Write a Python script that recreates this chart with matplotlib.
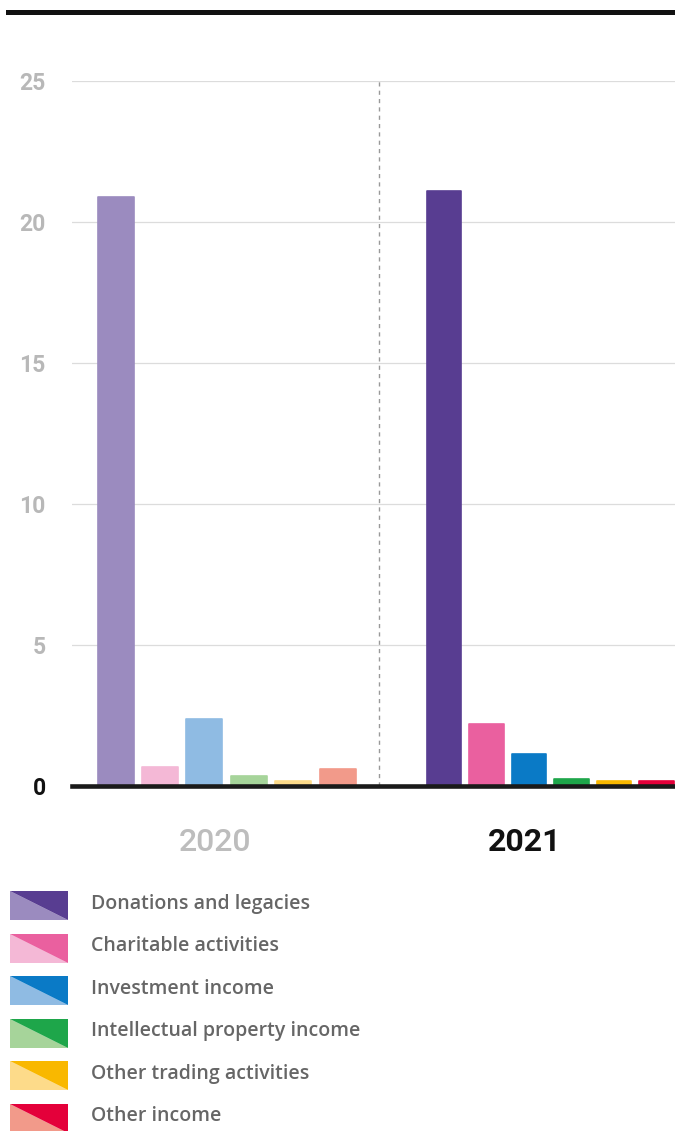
import matplotlib
matplotlib.use("Agg")
import matplotlib.pyplot as plt
from matplotlib.lines import Line2D
from matplotlib.patches import Polygon
import numpy as np

# ===== DATOS =====
categories = ["Donations and legacies", "Charitable activities", "Investment income",
              "Intellectual property income", "Other trading activities", "Other income"]
years = ["2020", "2021"]
values_2020 = [20.87, 0.67, 2.37, 0.37, 0.18, 0.59]
values_2021 = [21.1, 2.2, 1.13, 0.26, 0.17, 0.18]
colors_2020 = ["#9b8bbf", "#f4b8d6", "#8fbbe3", "#a6d49a", "#fddb8a", "#f29a8a"]
colors_2021 = ["#583d91", "#ea609f", "#0a7ac6", "#1ea64a", "#f9b800", "#e4003a"]
yticks = [0, 5, 10, 15, 20, 25]

plt.rcParams['font.family'] = ['Roboto', 'DejaVu Sans']

W, H = 675, 1131
fig = plt.figure(figsize=(W / 100, H / 100), dpi=100)

# ===== EJES PRINCIPALES =====
ax_l, ax_r, ax_t, ax_b = 72, 675, 81, 786
ax = fig.add_axes([ax_l / W, (H - ax_b) / H, (ax_r - ax_l) / W, (ax_b - ax_t) / H])
ax.set_xlim(0, ax_r - ax_l)
ax.set_ylim(0, 25)

# posiciones de barras (en px desde el borde izquierdo del eje)
x2020 = 43.5 + 44.4 * np.arange(len(values_2020))
x2021 = 371.8 + 42.5 * np.arange(len(values_2021))

ax.bar(x2020, values_2020, width=36, color=colors_2020, edgecolor=colors_2020,
       linewidth=1.2, joinstyle='round', zorder=3)
ax.bar(x2021, values_2021, width=34.5, color=colors_2021, edgecolor=colors_2021,
       linewidth=1.2, joinstyle='round', zorder=3)

for v in yticks[1:]:
    ax.axhline(v, color="#dcdcdc", lw=0.9, zorder=1)
ax.axhline(0, color="#1a1a1a", lw=3.3, zorder=5, clip_on=False)
ax.axvline(307, color="#999999", lw=1.0, linestyle=(0, (3, 3)), zorder=2)

for s in ax.spines.values():
    s.set_visible(False)
ax.set_xticks([])
ax.set_yticks(yticks)
ax.set_yticklabels([str(t) for t in yticks], fontsize=16.5, fontweight='bold')
ax.tick_params(axis='y', length=0, pad=19)
for lab, t in zip(ax.get_yticklabels(), yticks):
    lab.set_color("#111111" if t == 0 else "#b8b8b8")

# etiquetas de año
ax.text(143, -2.0, years[0], ha='center', va='center', fontsize=23,
        fontweight='medium', color="#bdbdbd")
ax.text(453, -2.0, years[1], ha='center', va='center', fontsize=23,
        fontweight='bold', color="#111111")

# linea negra superior
fig.add_artist(Line2D([8 / W, 1], [1 - 12 / H, 1 - 12 / H], color="#111111",
                      lw=3.6, transform=fig.transFigure))

# ===== LEYENDA =====
lg = fig.add_axes([0, 0, 1, 1], zorder=-1)
lg.set_xlim(0, W)
lg.set_ylim(H, 0)
lg.axis('off')
x0, x1 = 10, 68
for i, cat in enumerate(categories):
    yt = 891 + 42.5 * i
    yb = yt + 29
    lg.add_patch(Polygon([(x0, yt), (x0, yb), (x1, yb)], closed=True,
                         color=colors_2020[i], lw=0))
    lg.add_patch(Polygon([(x0, yt), (x1, yt), (x1, yb)], closed=True,
                         color=colors_2021[i], lw=0))
    lg.text(91, (yt + yb) / 2 - 2, cat, ha='left', va='center', fontsize=14,
            fontweight='semibold', color="#666666",
            family=['Open Sans', 'DejaVu Sans'])

fig.savefig("out.png", dpi=100)
